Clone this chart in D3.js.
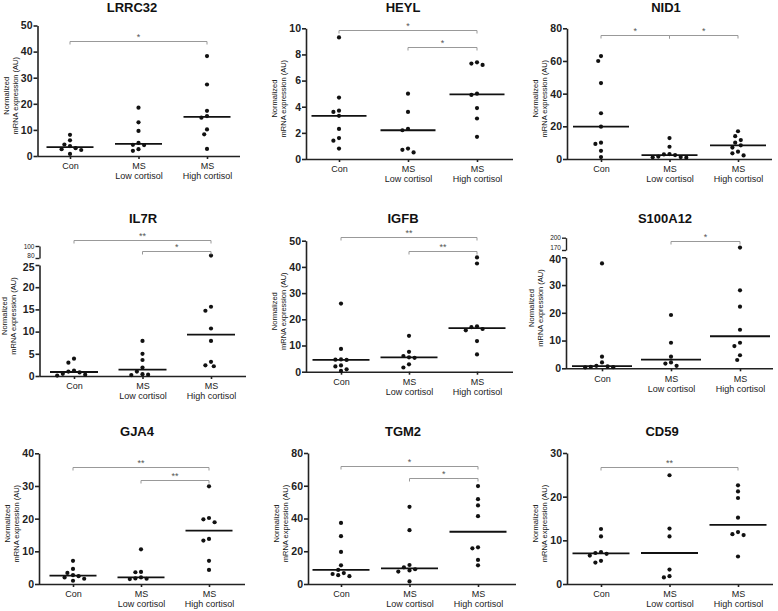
<!DOCTYPE html>
<html><head><meta charset="utf-8">
<script src="https://cdn.jsdelivr.net/npm/d3@7/dist/d3.min.js"></script>
<style>body{margin:0;background:#fff}svg{display:block}</style>
</head><body>
<svg id="c" width="778" height="611"></svg>
<script>
// ---------------- DATA ----------------
const groupLabels = [["Con"], ["MS", "Low cortisol"], ["MS", "High cortisol"]];
const genes = ["LRRC32", "HEYL", "NID1", "IL7R", "IGFB", "S100A12", "GJA4", "TGM2", "CD59"];

const LRRC32 = [[8.1, 6.0, 4.4, 3.8, 3.0, 2.6, 2.3, 0.8],
                [18.5, 12.9, 9.6, 5.0, 4.3, 4.2, 2.6, 2.0],
                [38.3, 27.4, 17.3, 15.3, 14.7, 10.2, 8.3, 2.7]];
const HEYL = [[9.3, 4.7, 3.7, 3.6, 3.3, 2.3, 1.6, 1.4, 0.8],
              [5.0, 3.6, 2.3, 2.2, 0.8, 0.7, 0.5],
              [7.4, 7.3, 7.2, 5.0, 4.9, 3.9, 3.1, 1.7]];
const NID1 = [[63, 60, 46.5, 28, 19.8, 10, 9.2, 5, 1.2],
              [12.8, 7.5, 3.0, 2.8, 2.4, 1.5, 1.2, 1.0, 0.8],
              [17, 14, 11.6, 10, 8.4, 7, 4.5, 3.5, 2.2]];
const IL7R = [[3.9, 3.0, 1.2, 1.0, 0.8, 0.5, 0.3, 0.1],
              [7.9, 5.0, 3.6, 1.9, 1.0, 0.4, 0.3, 0.2],
              [84, 15.6, 14.7, 10.7, 7.9, 3.2, 2.4, 2.2]];
const IGFB = [[26, 8.7, 4.7, 4.6, 4.5, 2.4, 2.0, 0.9, 0.3],
              [13.7, 7.6, 6.0, 5.5, 5.3, 2.8, 1.6],
              [43.6, 41.3, 17.3, 17.0, 16.3, 15.8, 11.7, 6.6]];
const S100A12 = [[37.8, 4.2, 2.1, 0.9, 0.7, 0.5, 0.4, 0.3],
                 [19.2, 9.2, 4.2, 2.1, 1.7, 0.9],
                 [176, 28.1, 22.2, 13.9, 9.2, 8.0, 4.7, 3.0]];
const GJA4 = [[7.1, 4.6, 3.4, 2.7, 2.4, 2.0, 1.6, 1.0],
              [10.6, 3.7, 3.6, 2.0, 1.7, 1.6, 1.5],
              [29.9, 20.2, 19.8, 18.9, 13.8, 13.3, 7.1, 4.3]];
const TGM2 = [[37.3, 29.2, 19.6, 11.4, 8.6, 6.7, 6.1, 5.4, 4.8],
              [47.1, 32.9, 11.6, 10.2, 9.0, 8.3, 7.6, 1.6],
              [59.8, 51.8, 48.0, 41.4, 22.4, 21.8, 14.7, 11.4]];
const CD59 = [[12.6, 10.9, 7.3, 7.1, 6.9, 6.5, 5.3, 4.9],
              [24.9, 12.7, 10.9, 3.3, 1.8, 1.5],
              [22.6, 21.2, 19.7, 15.2, 11.9, 11.4, 11.2, 6.3]];

const LRRC32_ticks = [0, 10, 20, 30, 40, 50];
const HEYL_ticks = [0, 2, 4, 6, 8, 10];
const NID1_ticks = [0, 20, 40, 60, 80];
const IL7R_ticks = [0, 5, 10, 15, 20, 25];
const IL7R_upperTicks = [80, 100];
const IGFB_ticks = [0, 10, 20, 30, 40, 50];
const S100A12_ticks = [0, 10, 20, 30, 40];
const S100A12_upperTicks = [170, 200];
const GJA4_ticks = [0, 10, 20, 30, 40];
const TGM2_ticks = [0, 20, 40, 60, 80];
const CD59_ticks = [0, 10, 20, 30];

// significance comparisons: [from group, to group, label]
const LRRC32_sig = [[0, 2, "*"]];
const HEYL_sig = [[0, 2, "*"], [1, 2, "*"]];
const NID1_sig = [[0, 1, "*"], [1, 2, "*"]];
const IL7R_sig = [[0, 2, "**"], [1, 2, "*"]];
const IGFB_sig = [[0, 2, "**"], [1, 2, "**"]];
const S100A12_sig = [[1, 2, "*"]];
const GJA4_sig = [[0, 2, "**"], [1, 2, "**"]];
const TGM2_sig = [[0, 2, "*"], [1, 2, "*"]];
const CD59_sig = [[0, 2, "**"]];

const dataByGene = {LRRC32, HEYL, NID1, IL7R, IGFB, S100A12, GJA4, TGM2, CD59};
const ticksByGene = {LRRC32: LRRC32_ticks, HEYL: HEYL_ticks, NID1: NID1_ticks, IL7R: IL7R_ticks,
  IGFB: IGFB_ticks, S100A12: S100A12_ticks, GJA4: GJA4_ticks, TGM2: TGM2_ticks, CD59: CD59_ticks};
const upperTicksByGene = {IL7R: IL7R_upperTicks, S100A12: S100A12_upperTicks};
const sigByGene = {LRRC32: LRRC32_sig, HEYL: HEYL_sig, NID1: NID1_sig, IL7R: IL7R_sig, IGFB: IGFB_sig,
  S100A12: S100A12_sig, GJA4: GJA4_sig, TGM2: TGM2_sig, CD59: CD59_sig};

// ---------------- LAYOUT ----------------
const layout = {
  LRRC32: {ax: 37.5, y0: 156, y1: 25.5, dom: [0, 50], cats: [70, 139, 207], xEnd: 240, medW: 47, tx: 132, ty: 12, br: [44], lab: [-29, -20]},
  HEYL:   {ax: 306, y0: 159, y1: 28.3, dom: [0, 10], cats: [339, 409, 477], xEnd: 513, medW: 55, tx: 403, ty: 12, br: [9.85, 8.6], lab: [-29, -20]},
  NID1:   {ax: 567, y0: 159, y1: 28.3, dom: [0, 80], cats: [601, 669, 738], xEnd: 772, medW: 56, tx: 666, ty: 12, br: [75.9, 75.9], lab: [-29, -20]},
  IL7R:   {ax: 39.5, y0: 376, y1: 265, dom: [0, 25], up: [[80, 100], [258, 246]], cats: [74, 144, 211], xEnd: 246, medW: 48, tx: 143, ty: 223, br: [110, 91.7], lab: [-33, -24]},
  IGFB:   {ax: 306, y0: 371.7, y1: 240.7, dom: [0, 50], cats: [341, 409, 477], xEnd: 513, medW: 57, tx: 403, ty: 223, br: [51.3, 46.2], lab: [-29, -20]},
  S100A12:{ax: 566, y0: 368.3, y1: 257.3, dom: [0, 40], up: [[170, 200], [250, 237.7]], cats: [602, 671, 740], xEnd: 773, medW: 60, tx: 665, ty: 223, br: [192.7], lab: [-32, -23]},
  GJA4:   {ax: 39, y0: 584, y1: 453.3, dom: [0, 40], cats: [73, 142, 209], xEnd: 245, medW: 47, tx: 137, ty: 436, br: [35.9, 31.7], lab: [-29, -20]},
  TGM2:   {ax: 308, y0: 584, y1: 453, dom: [0, 80], cats: [341, 411, 478], xEnd: 516, medW: 57, tx: 403, ty: 436, br: [72.2, 64.7], lab: [-29, -20]},
  CD59:   {ax: 567, y0: 584, y1: 453, dom: [0, 30], cats: [601, 671, 738], xEnd: 773, medW: 57, tx: 662, ty: 436, br: [26.7], lab: [-29, -20]}
};

const AXIS = "#222", FONT = "'Liberation Sans', Arial, Helvetica, sans-serif";
const svg = d3.select("#c");

function beeswarm(values, yMap, cx, step, minD) {
  const pts = values.map(v => ({v, y: yMap(v)})).sort((a, b) => a.y - b.y);
  const placed = [];
  const offs = [0, -step/2, step/2, -step, step, -1.5*step, 1.5*step, -2*step, 2*step, -2.5*step, 2.5*step, -3*step, 3*step];
  pts.forEach(p => {
    let best = null;
    for (const off of offs) {
      const x = cx + off;
      if (placed.every(q => Math.hypot(q.x - x, q.y - p.y) >= minD)) { best = x; break; }
    }
    p.x = best == null ? cx : best;
    placed.push(p);
  });
  return placed;
}

genes.forEach(name => {
  const L = layout[name], data = dataByGene[name];
  const g = svg.append("g").attr("font-family", FONT);
  const y = d3.scaleLinear().domain(L.dom).range([L.y0, L.y1]);
  const yUp = L.up ? d3.scaleLinear().domain(L.up[0]).range(L.up[1]) : null;
  const yMap = v => (yUp && v > L.dom[1]) ? yUp(v) : y(v);
  const x = d3.scalePoint().domain([0, 1, 2]).range([L.cats[0], L.cats[2]]);

  // title
  g.append("text").attr("x", L.tx).attr("y", L.ty).attr("text-anchor", "middle")
    .attr("font-size", 13).attr("font-weight", "bold").attr("fill", "#111").text(name);

  // y axis label
  const midY = (L.y0 + (L.up ? L.up[1][1] : L.y1)) / 2 + 5;
  const lbl = g.append("text").attr("transform", `translate(${L.ax},${midY}) rotate(-90)`)
    .attr("text-anchor", "middle").attr("font-size", 7.5).attr("fill", "#111");
  lbl.append("tspan").attr("x", 0).attr("y", L.lab[0]).text("Normalized");
  lbl.append("tspan").attr("x", 0).attr("y", L.lab[1]).text("mRNA expression (AU)");

  // y axis
  const ya = g.append("g").attr("transform", `translate(${L.ax},0)`)
    .call(d3.axisLeft(y).tickValues(ticksByGene[name]).tickSize(4).tickSizeOuter(0).tickPadding(1).tickFormat(d3.format("d")));
  ya.selectAll("path,line").attr("stroke", AXIS).attr("stroke-width", 1.6);
  ya.selectAll("text").attr("font-size", 10.5).attr("font-weight", "bold").attr("fill", "#222").attr("font-family", FONT);

  if (yUp) {
    // nudge the top lower label down a bit so it clears the break labels
    ya.selectAll(".tick").filter(d => d === L.dom[1]).select("text").attr("dy", "0.5em");
    const yu = g.append("g").attr("transform", `translate(${L.ax},0)`)
      .call(d3.axisLeft(yUp).tickValues(upperTicksByGene[name]).tickSize(4).tickSizeOuter(0).tickPadding(1).tickFormat(d3.format("d")));
    yu.selectAll("path,line").attr("stroke", AXIS).attr("stroke-width", 1.4);
    yu.selectAll("text").attr("font-size", 6.5).attr("fill", "#222").attr("font-family", FONT);
    yu.selectAll(".tick").filter(d => d === L.up[0][0]).select("text").attr("dy", "-0.05em");
  }

  // x axis
  const xa = g.append("g").attr("transform", `translate(0,${L.y0})`)
    .call(d3.axisBottom(x).tickSize(3).tickSizeOuter(0).tickFormat(""));
  xa.select(".domain").attr("d", `M${L.ax},0.5H${L.xEnd}`);
  xa.selectAll("path,line").attr("stroke", AXIS).attr("stroke-width", 1.6);
  xa.selectAll(".tick").each(function(d) {
    const t = d3.select(this).append("text").attr("fill", "#222").attr("font-size", 9)
      .attr("text-anchor", "middle").attr("font-family", FONT);
    groupLabels[d].forEach((s, i) => t.append("tspan").attr("x", 0).attr("y", 13.3 + i * 10).text(s));
  });

  // dots + medians
  data.forEach((vals, gi) => {
    const cx = x(gi);
    const pts = beeswarm(vals, yMap, cx, 5.6, 5.2);
    g.selectAll(null).data(pts).enter().append("circle")
      .attr("cx", d => d.x).attr("cy", d => d.y).attr("r", 2.1).attr("fill", "#111");
    const m = d3.median(vals);
    g.append("line").attr("x1", cx - L.medW / 2).attr("x2", cx + L.medW / 2)
      .attr("y1", yMap(m)).attr("y2", yMap(m)).attr("stroke", "#111").attr("stroke-width", 1.8);
  });

  // significance brackets
  sigByGene[name].forEach((s, i) => {
    const yy = Math.round(yMap(L.br[i])) + 0.5;
    const x1 = x(s[0]), x2 = x(s[1]);
    g.append("path").attr("d", `M${x1},${yy + 3}V${yy}H${x2}V${yy + 3}`)
      .attr("fill", "none").attr("stroke", "#999").attr("stroke-width", 1);
    g.append("text").attr("x", (x1 + x2) / 2).attr("y", yy - 2).attr("text-anchor", "middle")
      .attr("font-size", 9).attr("fill", "#555").text(s[2]);
  });
});
</script>
</body></html>
